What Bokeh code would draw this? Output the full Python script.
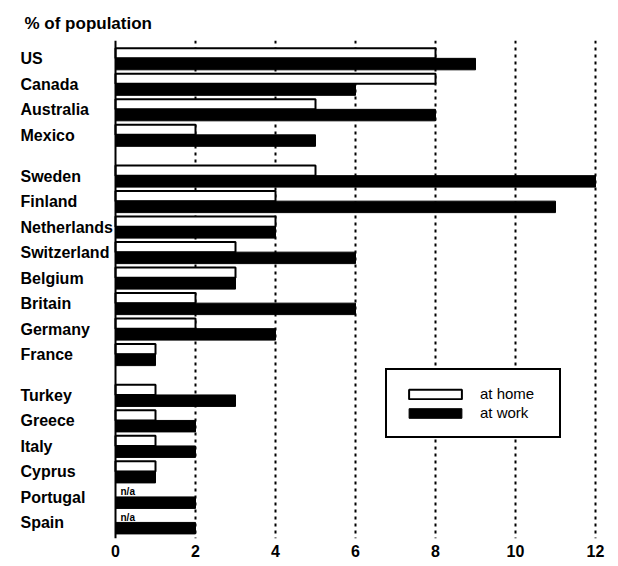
from bokeh.plotting import figure
from bokeh.models import ColumnDataSource, Range1d, FixedTicker, Span, Legend, LegendItem
from bokeh.core.properties import value
from bokeh.embed import file_html
from bokeh.resources import INLINE

countries = ["US", "Canada", "Australia", "Mexico",
             "Sweden", "Finland", "Netherlands", "Switzerland", "Belgium",
             "Britain", "Germany", "France",
             "Turkey", "Greece", "Italy", "Cyprus", "Portugal", "Spain"]
groups = [0, 0, 0, 0,
          1, 1, 1, 1, 1, 1, 1, 1,
          2, 2, 2, 2, 2, 2]
at_home = [8, 8, 5, 2,
           5, 4, 4, 3, 3, 2, 2, 1,
           1, 1, 1, 1, None, None]
at_work = [9, 6, 8, 5,
           12, 11, 4, 6, 3, 6, 4, 1,
           3, 2, 2, 1, 2, 2]
x_ticks = [0, 2, 4, 6, 8, 10, 12]

FONT = "Liberation Sans"
GAP = 0.6
pos = [i + GAP * g for i, g in enumerate(groups)]

home_idx = [i for i, v in enumerate(at_home) if v is not None]
na_idx = [i for i, v in enumerate(at_home) if v is None]

home_src = ColumnDataSource(dict(y=[pos[i] - 0.2 for i in home_idx],
                                 v=[at_home[i] for i in home_idx]))
work_src = ColumnDataSource(dict(y=[p + 0.225 for p in pos], v=at_work))
lab_src = ColumnDataSource(dict(y=[p + 0.02 for p in pos], t=countries))
na_src = ColumnDataSource(dict(y=[pos[i] - 0.2 for i in na_idx],
                               t=["n/a"] * len(na_idx)))

p = figure(width=618, height=566, output_backend="svg", toolbar_location=None,
           x_range=Range1d(-2.5, 12.325), y_range=Range1d(18.83, -0.7),
           min_border_left=15, min_border_right=10, min_border_top=40,
           min_border_bottom=28, title="% of population")
p.outline_line_color = None
p.background_fill_color = "white"
p.border_fill_color = "white"

p.title.text_font = FONT
p.title.text_font_size = "17px"
p.title.text_font_style = "bold"
p.title.text_color = "black"
p.title.align = "left"
p.title.offset = 9
p.title.standoff = 16

p.yaxis.visible = False
p.ygrid.visible = False
p.xgrid.ticker = FixedTicker(ticks=x_ticks[1:])
p.xgrid.grid_line_color = "black"
p.xgrid.grid_line_width = 2
p.xgrid.grid_line_dash = "3 4"

p.xaxis.ticker = FixedTicker(ticks=x_ticks)
p.xaxis.axis_line_color = None
p.xaxis.major_tick_line_color = None
p.xaxis.minor_tick_line_color = None
p.xaxis.major_label_text_font = FONT
p.xaxis.major_label_text_font_size = "16px"
p.xaxis.major_label_text_font_style = "bold"
p.xaxis.major_label_text_color = "black"
p.xaxis.major_label_standoff = 0

r_home = p.hbar(y="y", right="v", left=0, height=0.4, source=home_src,
                fill_color="white", line_color="black", line_width=2)
r_work = p.hbar(y="y", right="v", left=0, height=0.45, source=work_src,
                fill_color="black", line_color="black", line_width=1)

p.add_layout(Span(location=0, dimension="height", line_color="black", line_width=2))

p.text(x=0, y="y", text="t", source=lab_src, x_offset=-95,
       text_font=value(FONT), text_font_size="16px", text_font_style="bold",
       text_align="left", text_baseline="middle", text_color="black")
p.text(x=0, y="y", text="t", source=na_src, x_offset=5,
       text_font=value(FONT), text_font_size="10px", text_font_style="bold",
       text_align="left", text_baseline="middle", text_color="black")

legend = Legend(items=[LegendItem(label="at home", renderers=[r_home]),
                       LegendItem(label="at work", renderers=[r_work])],
                location=(370, 100), border_line_color="black",
                border_line_alpha=1.0,
                border_line_width=2.5, background_fill_color="white",
                background_fill_alpha=1, padding=15, spacing=2,
                glyph_width=66, glyph_height=12, label_height=16,
                label_width=64, label_standoff=12, margin=0,
                label_text_font=FONT, label_text_font_size="15px",
                label_text_color="black")
p.add_layout(legend, "center")

open("out.html", "w").write(file_html(p, INLINE))
